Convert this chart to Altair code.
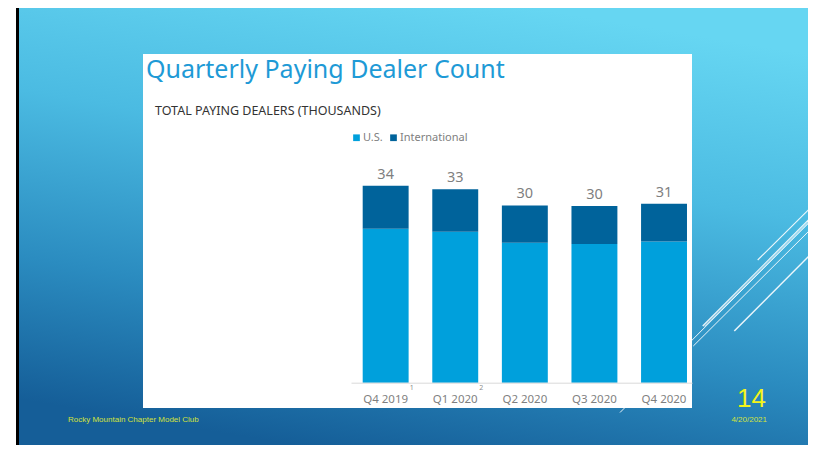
import altair as alt
import pandas as pd

quarters = ["Q4 2019", "Q1 2020", "Q2 2020", "Q3 2020", "Q4 2020"]
us_values = [26.4, 25.9, 24.0, 23.8, 24.2]
intl_values = [7.4, 7.3, 6.4, 6.5, 6.5]
total_labels = ["34", "33", "30", "30", "31"]
footnotes = ["1", "2", "", "", ""]
series_names = ["U.S.", "International"]
series_colors = ["#00a0dc", "#00639b"]

rows = []
for q, u, i in zip(quarters, us_values, intl_values):
    rows.append({"quarter": q, "series": "U.S.", "value": u, "order": 0})
    rows.append({"quarter": q, "series": "International", "value": i, "order": 1})
bars_df = pd.DataFrame(rows)
totals_df = pd.DataFrame({
    "quarter": quarters,
    "total": [u + i for u, i in zip(us_values, intl_values)],
    "label": total_labels,
    "note": footnotes,
})
one = pd.DataFrame({"k": [0]})

FONT = "Noto Sans"
W, H = 800, 437

xscale = alt.Scale(domain=quarters, range=[343, 684], paddingInner=0.34,
                   paddingOuter=0.12, align=0.7)
yscale = alt.Scale(domain=[0, 40], range=[374.7, 141.5], nice=False)

# slide background
black_strip = alt.Chart(one).mark_rect(color="black").encode(
    x=alt.value(8), x2=alt.value(11), y=alt.value(0), y2=alt.value(H))
slide_bg = alt.Chart(one).mark_rect(
    color=alt.LinearGradient(
        gradient="linear", x1=0.65, y1=0, x2=0.35, y2=1,
        stops=[alt.GradientStop(offset=0, color="#66d6f2"),
               alt.GradientStop(offset=0.35, color="#4bbbe2"),
               alt.GradientStop(offset=0.7, color="#2b8cc0"),
               alt.GradientStop(offset=1, color="#155e98")])
).encode(x=alt.value(11), x2=alt.value(W), y=alt.value(0), y2=alt.value(H))

line_specs = [
    (749.7, 252, 807, 195.3, 1.2),
    (694.7, 318, 807, 205.3, 1.2),
    (696.2, 318.5, 807, 207.5, 1.0),
    (612, 404.5, 807, 208.7, 1.0),
    (685.3, 338, 807, 217, 1.0),
    (726.3, 323, 807, 242, 1.5),
]
deco_lines = [
    alt.Chart(one).mark_rule(color="white", strokeWidth=sw, opacity=0.9).encode(
        x=alt.value(a), y=alt.value(b), x2=alt.value(c), y2=alt.value(d))
    for a, b, c, d, sw in line_specs
]

card = alt.Chart(one).mark_rect(color="white").encode(
    x=alt.value(135), x2=alt.value(684), y=alt.value(46), y2=alt.value(400))

title = alt.Chart(one).mark_text(
    text="Quarterly Paying Dealer Count", font=FONT, fontSize=25,
    color="#1e9ad6", align="left", baseline="alphabetic"
).encode(x=alt.value(138), y=alt.value(70))

subtitle = alt.Chart(one).mark_text(
    text="TOTAL PAYING DEALERS (THOUSANDS)", font=FONT, fontSize=12.5,
    color="#333333", align="left", baseline="alphabetic"
).encode(x=alt.value(147), y=alt.value(107))

bars = alt.Chart(bars_df).mark_bar().encode(
    x=alt.X("quarter:N", sort=quarters, scale=xscale,
            axis=alt.Axis(title=None, labelAngle=0, ticks=False, grid=False,
                          domainColor="#d9d9d9", domainWidth=1,
                          labelColor="#7f7f7f", labelFont=FONT,
                          labelFontSize=11.5, labelPadding=11,
                          offset=-62.3, zindex=1)),
    y=alt.Y("value:Q", stack="zero", scale=yscale, axis=None),
    color=alt.Color("series:N",
                    scale=alt.Scale(domain=series_names, range=series_colors),
                    legend=alt.Legend(orient="none", legendX=343, legendY=124,
                                      direction="horizontal", title=None,
                                      symbolType="square", symbolSize=45,
                                      symbolStrokeWidth=0, labelFont=FONT,
                                      labelFontSize=11, labelColor="#808080",
                                      labelOffset=1, columnPadding=5)),
    order=alt.Order("order:Q"),
)

totals = alt.Chart(totals_df).mark_text(
    font=FONT, fontSize=14.5, color="#7f7f7f", baseline="alphabetic", dy=-7
).encode(
    x=alt.X("quarter:N", sort=quarters, scale=xscale),
    y=alt.Y("total:Q", scale=yscale),
    text="label:N",
)

notes = alt.Chart(totals_df).mark_text(
    font=FONT, fontSize=7, color="#8c8c8c", baseline="middle", dx=26
).encode(
    x=alt.X("quarter:N", sort=quarters, scale=xscale),
    y=alt.value(380),
    text="note:N",
)

footer_left = alt.Chart(one).mark_text(
    text="Rocky Mountain Chapter Model Club", font="Liberation Sans",
    fontSize=8, color="#d2e23c", align="left", baseline="middle"
).encode(x=alt.value(60), y=alt.value(412))

footer_date = alt.Chart(one).mark_text(
    text="4/20/2021", font="Liberation Sans", fontSize=8, color="#d2e23c",
    align="right", baseline="middle"
).encode(x=alt.value(759), y=alt.value(412))

page_num = alt.Chart(one).mark_text(
    text="14", font="Liberation Sans", fontSize=26, color="#f4f41a",
    align="right", baseline="alphabetic"
).encode(x=alt.value(758), y=alt.value(399))

chart = alt.layer(
    black_strip, slide_bg, *deco_lines, card, title, subtitle,
    bars, totals, notes, footer_left, footer_date, page_num
).properties(
    width=W, height=H, padding=0,
    autosize=alt.AutoSizeParams(type="none"),
).configure(background="white").configure_view(stroke=None)

chart.save("out.html", embed_options={"renderer": "svg", "actions": False})
